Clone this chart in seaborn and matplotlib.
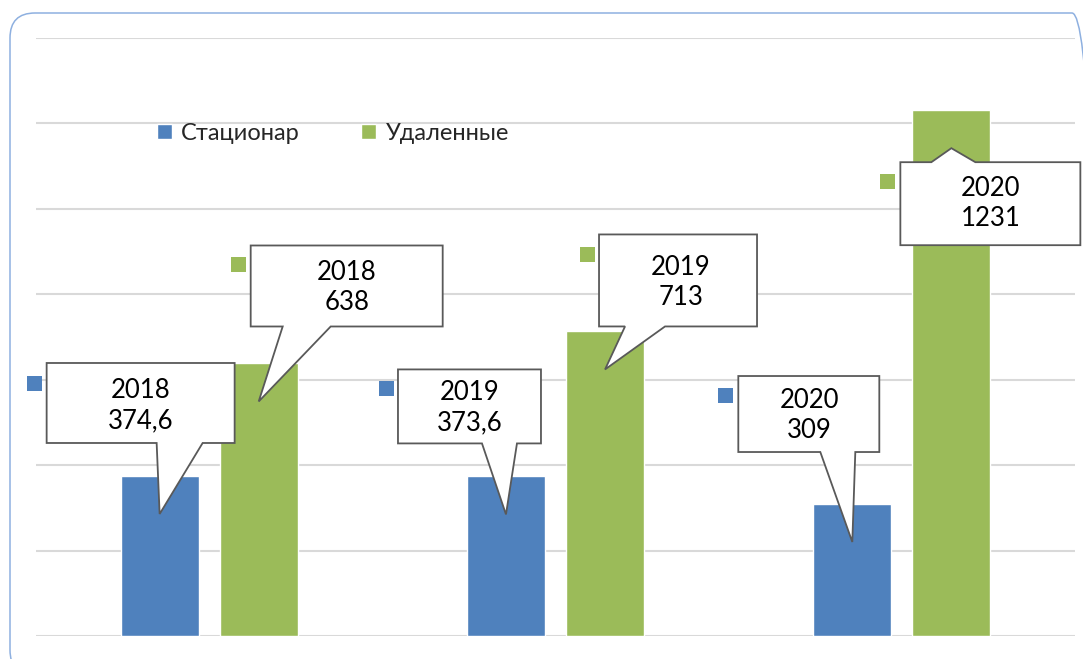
import matplotlib
matplotlib.use("Agg")
import matplotlib.pyplot as plt
import matplotlib.transforms as mtransforms
from matplotlib.patches import Polygon, Rectangle, FancyBboxPatch
import seaborn as sns
import pandas as pd

# data
years = ['2018', '2019', '2020']
series = ['Стационар', 'Удаленные']
stationary = [374.6, 373.6, 309]
remote = [638, 713, 1231]
colors = ['#4F81BD', '#9BBB59']

df = pd.DataFrame({
    'year': years * 2,
    'kind': [series[0]] * 3 + [series[1]] * 3,
    'value': stationary + remote,
})

# callout layout in pixels relative to the callout tip (y up)
# (left, right, bottom, top, tail_left, tail_right, text_dx, text_dy, square_x, square_y)
callouts = [
    [(-113, 75, 71, 151, -3, 43, -19, 108, -133, 123),
     (-108, 35, 71, 145, -24, 11, -36, 107, -127, 118),
     (-114, 27, 90, 166, -32, 3, -43, 127, -134, 139)],
    [(-8, 184, 75, 156, 24, 72, 88, 114, -28, 129),
     (-6, 152, 43, 135, 20, 60, 76, 87, -25, 107),
     (-51, 129, -97, -14, -20, 24, 39, -55, -71, -41)],
]
tip_drop = 38

sns.set_style('white')
plt.rcParams['font.family'] = ['Lato', 'DejaVu Sans']

fig = plt.figure(figsize=(10.83, 6.59), dpi=100)
ax = fig.add_axes([36 / 1083, 23 / 659, 1039 / 1083, 598 / 659])

sns.barplot(data=df, x='year', y='value', hue='kind', palette=colors,
            width=0.572, gap=0.21, saturation=1, ax=ax, zorder=2)

ax.set_ylim(0, 1400)
ax.set_xlim(-0.5, 2.5)
ax.set_yticks(range(0, 1401, 200))
ax.yaxis.grid(True, color='#D9D9D9', linewidth=1.5)
ax.set_axisbelow(True)
ax.tick_params(left=False, bottom=False, labelleft=False, labelbottom=False)
ax.set_xlabel('')
ax.set_ylabel('')
for s in ax.spines.values():
    s.set_visible(False)

sns.move_legend(ax, 'center', bbox_to_anchor=(333 / 1083, 1 - 133 / 659),
                bbox_transform=fig.transFigure, ncol=2, frameon=False, title=None,
                fontsize=17, handlelength=0.62, handleheight=0.62,
                handletextpad=0.4, columnspacing=2.6)

px = mtransforms.Affine2D().scale(1 / fig.dpi) + fig.dpi_scale_trans


def label(v):
    return f'{v:g}'.replace('.', ',')


for h, cont in enumerate(ax.containers):
    for j, bar in enumerate(cont):
        xc = bar.get_x() + bar.get_width() / 2
        val = bar.get_height()
        tr = px + mtransforms.ScaledTranslation(xc, val, ax.transData)
        L, R, B, T, tl, trr, tdx, tdy, sx, sy = callouts[h][j]
        ty = -tip_drop
        if B > 0:
            verts = [(0, 0), (trr, B), (R, B), (R, T), (L, T), (L, B), (tl, B)]
        else:
            verts = [(0, 0), (tl, T), (L, T), (L, B), (R, B), (R, T), (trr, T)]
        verts = [(x, y + ty) for x, y in verts]
        ax.add_patch(Polygon(verts, closed=True, facecolor='white', edgecolor='#595959',
                             linewidth=1.3, transform=tr, zorder=5, clip_on=False))
        ax.add_patch(Rectangle((sx, sy + ty), 15, 15, facecolor=colors[h], edgecolor='none',
                               transform=tr, zorder=5, clip_on=False))
        ax.text(tdx, tdy + ty, f'{years[j]}\n{label(val)}', transform=tr, ha='center',
                va='center', fontsize=18.5, linespacing=1.25, zorder=6, color='black')

# rounded outer frame
fig.add_artist(FancyBboxPatch((10, -16), 1087, 662,
                              boxstyle='round,pad=0,rounding_size=25',
                              facecolor='none', edgecolor='#8EB0E0', linewidth=1.1,
                              transform=px, clip_on=False))

fig.savefig('out.png', dpi=100)
